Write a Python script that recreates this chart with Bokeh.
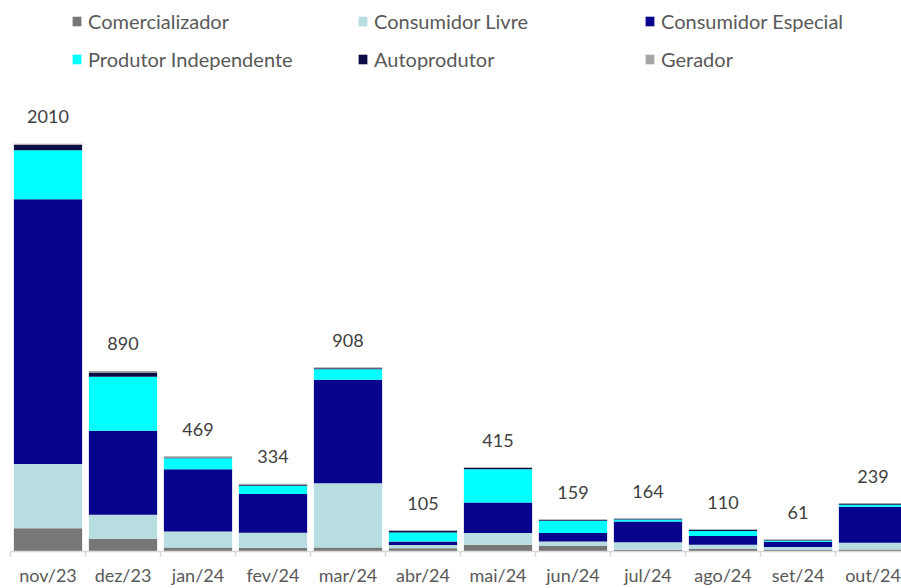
from bokeh.plotting import figure
from bokeh.models import Range1d, FixedTicker, Legend, LegendItem, ColumnDataSource
from bokeh.embed import file_html
from bokeh.resources import INLINE
from bokeh.core.properties import value

months = ["nov/23", "dez/23", "jan/24", "fev/24", "mar/24", "abr/24",
          "mai/24", "jun/24", "jul/24", "ago/24", "set/24", "out/24"]
comercializador = [115, 63, 20, 18, 20, 16, 33, 27, 9, 13, 8, 10]
consumidor_livre = [316, 118, 79, 75, 317, 16, 58, 22, 36, 20, 14, 33]
consumidor_especial = [1305, 414, 307, 190, 510, 17, 150, 42, 103, 43, 26, 178]
produtor_independente = [242, 267, 54, 41, 51, 45, 165, 60, 10, 25, 6, 10]
autoprodutor = [27, 20, 4, 5, 5, 8, 6, 4, 4, 5, 3, 3]
gerador = [5, 8, 5, 5, 5, 3, 3, 4, 2, 4, 4, 5]
totals = [2010, 890, 469, 334, 908, 105, 415, 159, 164, 110, 61, 239]

series = ["Comercializador", "Consumidor Livre", "Consumidor Especial",
          "Produtor Independente", "Autoprodutor", "Gerador"]
colors = ["#777777", "#B7DDE0", "#06038C", "#00FFFF", "#0B0D45", "#A6A6A6"]

x = list(range(len(months)))
data = {"x": x, "total": totals, "label": [str(t) for t in totals]}
for name, vals in zip(series, [comercializador, consumidor_livre, consumidor_especial,
                               produtor_independente, autoprodutor, gerador]):
    data[name] = vals
src = ColumnDataSource(data)

W, H = 901, 588
left_border, bottom_border = 10, 37
frame_w = W - left_border
frame_h = H - bottom_border
cat_px = 75.0

p = figure(width=W, height=H, output_backend="svg", toolbar_location=None,
           x_range=Range1d(-0.5, -0.5 + frame_w / cat_px),
           y_range=Range1d(0, frame_h * 4.93),
           min_border_left=left_border, min_border_right=0,
           min_border_top=0, min_border_bottom=bottom_border,
           y_axis_location=None)
p.outline_line_color = None
p.xgrid.visible = False
p.ygrid.visible = False
p.background_fill_color = "white"
p.border_fill_color = "white"

renderers = p.vbar_stack(series, x="x", width=0.91, color=colors, line_color=None, source=src)

p.text(x="x", y="total", text="label", source=src, text_align="center",
       text_baseline="alphabetic", y_offset=-27, text_font=value("Lato"),
       text_font_size="18px", text_color="#404040")

ax = p.xaxis[0]
ax.ticker = FixedTicker(ticks=x, minor_ticks=[i - 0.5 for i in range(len(months) + 1)])
ax.major_label_overrides = {i: m for i, m in enumerate(months)}
ax.major_tick_line_color = None
ax.major_tick_out = 0
ax.major_tick_in = 0
ax.minor_tick_in = 0
ax.minor_tick_out = 5
ax.minor_tick_line_color = "#D9D9D9"
ax.minor_tick_line_width = 1.5
ax.axis_line_color = "#D9D9D9"
ax.axis_line_width = 1.5
ax.major_label_standoff = 7
ax.major_label_text_font = "Lato"
ax.major_label_text_font_size = "18px"
ax.major_label_text_color = "#595959"

legend_x = [61, 347, 634]
pairs = [(0, 3), (1, 4), (2, 5)]
for lx, (a, b) in zip(legend_x, pairs):
    lg = Legend(items=[LegendItem(label=series[a], renderers=[renderers[a]]),
                       LegendItem(label=series[b], renderers=[renderers[b]])],
                location=(lx, 480), orientation="vertical",
                glyph_width=11, glyph_height=12, label_standoff=6,
                label_height=20, spacing=14, padding=0, margin=0,
                border_line_color=None, background_fill_alpha=0,
                label_text_font="Lato", label_text_font_size="20px",
                label_text_color="#595959")
    p.add_layout(lg, "center")

open("out.html", "w").write(file_html(p, INLINE))
